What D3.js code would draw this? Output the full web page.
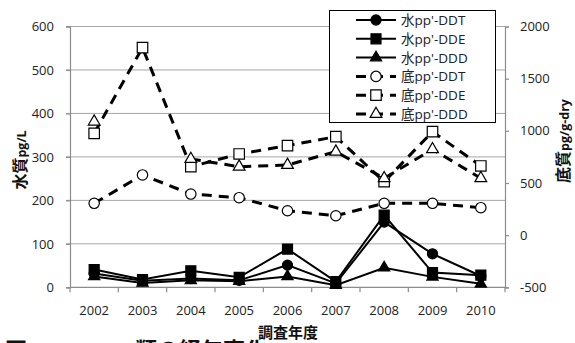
<!DOCTYPE html>
<html>
<head>
<meta charset="utf-8">
<script src="https://cdn.jsdelivr.net/npm/d3@7"></script>
<style>
  body { margin: 0; background: #fff; }
  svg { display: block; }
</style>
</head>
<body>
<svg id="chart" width="575" height="343"></svg>
<script>
// Survey years
const years = ["2002", "2003", "2004", "2005", "2006", "2007", "2008", "2009", "2010"];

// Water concentrations (pg/L), left axis
const waterDDT = [32, 15, 20, 16, 51, 9, 150, 77, 26];
const waterDDE = [41, 18, 38, 23, 88, 13, 166, 34, 28];
const waterDDD = [25, 10, 16, 14, 25, 5, 45, 24, 8];

// Sediment concentrations (pg/g-dry), right axis; null = no value that year
const sedDDT = [305, 577, 394, 359, 234, 186, 305, 305, 263];
const sedDDE = [976, 1797, 656, 778, 858, 944, 512, 992, 663];
const sedDDD = [1088, null, 730, 656, 673, 800, 545, 823, 545];

// Axis tick values
const leftTicks = [0, 100, 200, 300, 400, 500, 600];
const rightTicks = [-500, 0, 500, 1000, 1500, 2000];

const seriesList = [
  { name: "水pp'-DDT", values: waterDDT, axis: "L", symbol: d3.symbolCircle, size: 80, fill: "#000", dashed: false },
  { name: "水pp'-DDE", values: waterDDE, axis: "L", symbol: d3.symbolSquare, size: 100, fill: "#000", dashed: false },
  { name: "水pp'-DDD", values: waterDDD, axis: "L", symbol: d3.symbolTriangle, size: 55, fill: "#000", dashed: false },
  { name: "底pp'-DDT", values: sedDDT, axis: "R", symbol: d3.symbolCircle, size: 85, fill: "#fff", dashed: true },
  { name: "底pp'-DDE", values: sedDDE, axis: "R", symbol: d3.symbolSquare, size: 110, fill: "#fff", dashed: true },
  { name: "底pp'-DDD", values: sedDDD, axis: "R", symbol: d3.symbolTriangle, size: 60, fill: "#fff", dashed: true }
];

const svg = d3.select("#chart");
const plot = { left: 70, right: 505, top: 26.5, bottom: 287.3 };
const tickFont = "'Open Sans', 'Liberation Sans', sans-serif";
const cjkFont = "'Noto Sans CJK JP', 'Noto Sans CJK SC', sans-serif";
const axisGrey = "#8c8c8c";
const plainNumber = d => String(d);

const x = d3.scaleBand().domain(years).range([plot.left, plot.right]);
const yL = d3.scaleLinear().domain([0, 600]).range([plot.bottom, plot.top]);
const yR = d3.scaleLinear().domain([-500, 2000]).range([plot.bottom, plot.top]);

// Horizontal gridlines on the left-axis ticks
svg.append("g")
  .selectAll("line")
  .data(leftTicks.filter(d => d > 0))
  .join("line")
  .attr("x1", plot.left - 4).attr("x2", plot.right)
  .attr("y1", d => yL(d)).attr("y2", d => yL(d))
  .attr("stroke", "#a6a6a6").attr("stroke-width", 1);

// Left axis
const gL = svg.append("g").attr("transform", `translate(${plot.left},0)`)
  .call(d3.axisLeft(yL).tickValues(leftTicks).tickFormat(plainNumber).tickSize(4).tickPadding(12));
// Right axis
const gR = svg.append("g").attr("transform", `translate(${plot.right},0)`)
  .call(d3.axisRight(yR).tickValues(rightTicks).tickFormat(plainNumber).tickSize(4).tickPadding(11));
// Bottom axis
const gB = svg.append("g").attr("transform", `translate(0,${plot.bottom})`)
  .call(d3.axisBottom(x).tickSize(0).tickPadding(18));

[gL, gR, gB].forEach(g => {
  g.select(".domain").attr("stroke", axisGrey).attr("stroke-width", 1.2);
  g.selectAll(".tick line").attr("stroke", axisGrey).attr("stroke-width", 1.2);
  g.selectAll(".tick text").attr("font-family", tickFont).attr("font-size", 13).attr("fill", "#222");
});
gB.select(".domain").attr("d", `M${plot.left},0H${plot.right}`);

// Category boundary ticks on the x axis
const bounds = years.map(d => x(d)).concat([plot.right]);
svg.append("g")
  .selectAll("line")
  .data(bounds)
  .join("line")
  .attr("x1", d => d).attr("x2", d => d)
  .attr("y1", plot.bottom).attr("y2", plot.bottom + 5)
  .attr("stroke", axisGrey).attr("stroke-width", 1.2);

// Series lines, then markers on top
const xc = d => x(d) + x.bandwidth() / 2;
seriesList.forEach(s => {
  const sc = s.axis === "L" ? yL : yR;
  const line = d3.line()
    .defined(d => d != null)
    .x((d, i) => xc(years[i]))
    .y(d => sc(d));
  svg.append("path")
    .datum(s.values)
    .attr("d", line)
    .attr("fill", "none")
    .attr("stroke", "#000")
    .attr("stroke-width", s.dashed ? 3 : 2)
    .attr("stroke-dasharray", s.dashed ? "10,7" : null);
});
seriesList.forEach(s => {
  const sc = s.axis === "L" ? yL : yR;
  const sym = d3.symbol().type(s.symbol).size(s.size);
  const pts = s.values.map((v, i) => ({ year: years[i], v })).filter(p => p.v != null);
  svg.append("g")
    .selectAll("path")
    .data(pts)
    .join("path")
    .attr("d", sym)
    .attr("transform", p => `translate(${xc(p.year)},${sc(p.v)})`)
    .attr("fill", s.fill)
    .attr("stroke", "#000")
    .attr("stroke-width", 1.2);
});

// Legend
const lg = svg.append("g");
lg.append("rect")
  .attr("x", 329.5).attr("y", 10.5).attr("width", 166).attr("height", 112)
  .attr("fill", "#fff").attr("stroke", "#000").attr("stroke-width", 1);
seriesList.forEach((s, i) => {
  const yy = 20 + i * 18.8;
  lg.append("line")
    .attr("x1", 356).attr("x2", 396).attr("y1", yy).attr("y2", yy)
    .attr("stroke", "#000")
    .attr("stroke-width", s.dashed ? 3 : 2)
    .attr("stroke-dasharray", s.dashed ? "10,7" : null);
  lg.append("path")
    .attr("d", d3.symbol().type(s.symbol).size(s.size)())
    .attr("transform", `translate(376,${yy})`)
    .attr("fill", s.fill).attr("stroke", "#000").attr("stroke-width", 1.2);
  const t = lg.append("text")
    .attr("x", 401).attr("y", yy + 5)
    .attr("font-size", 13.5).attr("fill", "#222");
  t.append("tspan").attr("font-family", cjkFont).text(s.name.charAt(0));
  t.append("tspan").attr("font-family", tickFont).text(s.name.slice(1));
});

// Axis titles
const leftTitle = svg.append("text")
  .attr("transform", "translate(26,160) rotate(-90)")
  .attr("text-anchor", "middle").attr("font-weight", "bold").attr("fill", "#111");
leftTitle.append("tspan").attr("font-family", cjkFont).attr("font-size", 16).text("水質");
leftTitle.append("tspan").attr("font-family", tickFont).attr("font-size", 12.5).text("pg/L");

const rightTitle = svg.append("text")
  .attr("transform", "translate(569,141) rotate(-90)")
  .attr("text-anchor", "middle").attr("font-weight", "bold").attr("fill", "#111");
rightTitle.append("tspan").attr("font-family", cjkFont).attr("font-size", 16).text("底質");
rightTitle.append("tspan").attr("font-family", tickFont).attr("font-size", 12.5).text("pg/g-dry");

svg.append("text")
  .attr("x", 288).attr("y", 338)
  .attr("text-anchor", "middle")
  .attr("font-family", cjkFont).attr("font-weight", "bold").attr("font-size", 15)
  .attr("fill", "#111")
  .text("調査年度");

// Figure caption (runs past the bottom edge)
const cap = svg.append("text")
  .attr("x", 5).attr("y", 358)
  .attr("font-weight", "bold").attr("font-size", 22).attr("fill", "#111");
cap.append("tspan").attr("font-family", cjkFont).text("図　");
cap.append("tspan").attr("font-family", tickFont).text("pp'-DDT");
cap.append("tspan").attr("font-family", cjkFont).text("類の経年変化");
</script>
</body>
</html>
